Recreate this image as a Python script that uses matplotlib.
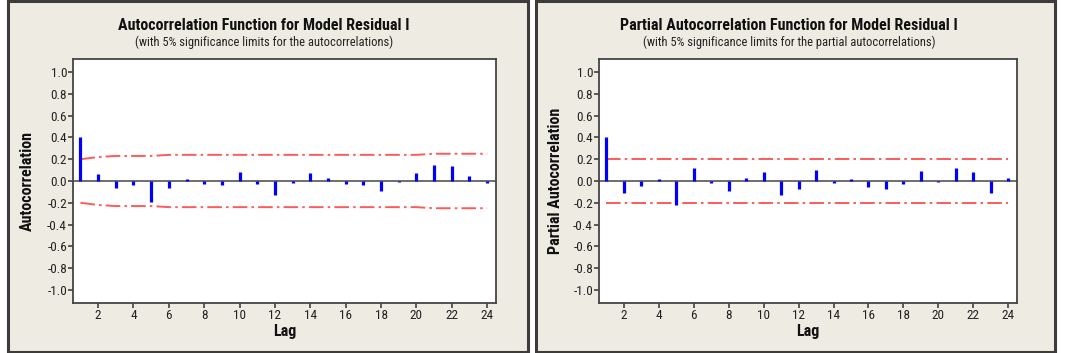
#!/usr/bin/env python3
"""ACF / PACF plots for model residual I (Minitab style)."""

import matplotlib

matplotlib.use("Agg")
import matplotlib.pyplot as plt
from matplotlib import font_manager
from matplotlib.patches import Rectangle

lags = list(range(1, 25))

acf_values = [0.40, 0.06, -0.06, -0.04, -0.19, -0.06, 0.02, -0.03, -0.04, 0.08, -0.03, -0.13,
              -0.02, 0.07, 0.03, -0.03, -0.04, -0.09, -0.005, 0.07, 0.15, 0.14, 0.05, -0.02]
acf_limits = [0.20, 0.22, 0.23, 0.23, 0.23, 0.24, 0.24, 0.24, 0.24, 0.24, 0.24, 0.24,
              0.24, 0.24, 0.24, 0.24, 0.24, 0.24, 0.24, 0.24, 0.25, 0.25, 0.25, 0.25]

pacf_values = [0.40, -0.11, -0.05, 0.02, -0.22, 0.12, -0.015, -0.09, 0.03, 0.08, -0.13, -0.07,
               0.10, -0.015, 0.02, -0.055, -0.07, -0.03, 0.095, -0.01, 0.12, 0.085, -0.11, 0.03]
pacf_limits = [0.20] * 24

y_ticks = [1.0, 0.8, 0.6, 0.4, 0.2, 0.0, -0.2, -0.4, -0.6, -0.8, -1.0]
x_ticks = list(range(2, 25, 2))

W, H = 1066, 353
PANEL_BG = "#eeebe3"
BORDER = "#3c3c3c"
BAR = "#0000ff"
LIMIT = "#ff5a5a"


def pick_font():
    installed = {f.name for f in font_manager.fontManager.ttflist}
    for name in ["Liberation Sans Narrow", "Roboto Condensed", "DejaVu Sans"]:
        if name in installed:
            return name
    return "DejaVu Sans"


def px_rect(x0, y0, x1, y1):
    # pixel box (top-left origin) -> figure fraction [left, bottom, width, height]
    return [x0 / W, (H - y1) / H, (x1 - x0) / W, (y1 - y0) / H]


def draw_panel(fig, box, axes_box, values, limits, title, subtitle, ylabel, title_x, ylabel_x):
    l, b, w, h = px_rect(*box)
    fig.patches.append(Rectangle((l, b), w, h, transform=fig.transFigure, facecolor=PANEL_BG,
                                 edgecolor=BORDER, linewidth=2.2, zorder=-5))
    fig.text(title_x / W, 1 - 26 / H, title, ha="center", va="center", fontsize=11.5,
             fontweight="bold", color="#111111")
    fig.text(title_x / W, 1 - 42 / H, subtitle, ha="center", va="center", fontsize=9,
             color="#222222")

    ax = fig.add_axes(px_rect(*axes_box))
    ax.set_zorder(2)
    ax.set_facecolor("white")
    ax.vlines(lags, 0, values, color=BAR, linewidth=2.3, zorder=3)
    ax.axhline(0, color="#555555", linewidth=1.2, zorder=2)
    upper = limits
    lower = [-v for v in limits]
    for series in (upper, lower):
        ax.plot(lags, series, color=LIMIT, linewidth=1.4, dashes=[10.5, 3.0, 1.8, 3.0], zorder=2)

    ax.set_xlim(0.58, 24.5)
    ax.set_ylim(-1.12, 1.12)
    ax.set_yticks(y_ticks)
    ax.set_yticklabels([f"{v:.1f}" for v in y_ticks])
    ax.set_xticks(x_ticks)
    ax.tick_params(axis="both", direction="out", length=3.5, width=1.1, color="#333333",
                   labelsize=9.5, labelcolor="#222222", pad=0.8)
    for spine in ax.spines.values():
        spine.set_color("#444444")
        spine.set_linewidth(1.3)

    ax.set_ylabel(ylabel, fontsize=11.5, fontweight="bold", color="#111111")
    ax.yaxis.set_label_coords(ylabel_x, 0.5)
    ax.set_xlabel("Lag", fontsize=11.5, fontweight="bold", color="#111111")
    ax.xaxis.set_label_coords(0.5, -0.085)
    return ax


def main():
    plt.rcParams["font.family"] = [pick_font(), "DejaVu Sans"]
    plt.rcParams["lines.scale_dashes"] = False

    fig = plt.figure(figsize=(W / 100, H / 100), dpi=100, facecolor="white")

    draw_panel(fig, (8, 1, 528, 352), (73, 59, 496, 303), acf_values, acf_limits,
               "Autocorrelation Function for Model Residual I",
               "(with 5% significance limits for the autocorrelations)",
               "Autocorrelation", 264, -0.09)
    draw_panel(fig, (536, 1, 1055, 352), (599, 59, 1017, 303), pacf_values, pacf_limits,
               "Partial Autocorrelation Function for Model Residual I",
               "(with 5% significance limits for the partial autocorrelations)",
               "Partial Autocorrelation", 789, -0.086)

    fig.savefig("out.png", dpi=100, facecolor="white")


if __name__ == "__main__":
    main()
